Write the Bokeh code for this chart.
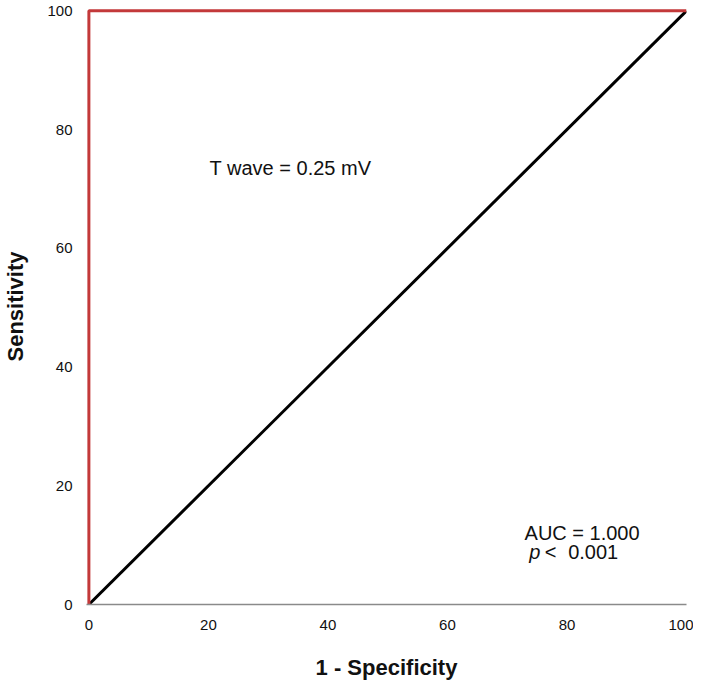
from bokeh.plotting import figure
from bokeh.models import Range1d, FixedTicker, Label
from bokeh.embed import file_html
from bokeh.resources import INLINE

# Data
roc_fpr = [0, 0, 100]
roc_tpr = [0, 100, 100]
ref_x = [0, 100]
ref_y = [0, 100]
ticks = [0, 20, 40, 60, 80, 100]
threshold_text = "T wave = 0.25 mV"
auc_text = "AUC = 1.000"
p_sym = "p"
p_op = "<"
p_val = "0.001"

FONT = "Liberation Sans"

p = figure(width=693, height=682, output_backend="svg", toolbar_location=None,
           x_range=Range1d(-0.4, 100), y_range=Range1d(0, 100.4),
           min_border_left=67, min_border_right=7, min_border_top=8, min_border_bottom=65)
p.outline_line_color = None
p.grid.visible = False

p.line(ref_x, ref_y, line_color="black", line_width=3)
p.line(roc_fpr, roc_tpr, line_color="#c3393a", line_width=3)

for ax in (p.xaxis[0], p.yaxis[0]):
    ax.ticker = FixedTicker(ticks=ticks)
    ax.major_tick_line_color = None
    ax.minor_tick_line_color = None
    ax.axis_line_color = "#8a8a8a"
    ax.axis_line_width = 1.5
    ax.major_label_text_font = FONT
    ax.major_label_text_font_size = "15px"
    ax.major_label_text_color = "#111111"
    ax.axis_label_text_font = FONT
    ax.axis_label_text_font_size = "22px"
    ax.axis_label_text_font_style = "bold"
    ax.axis_label_text_color = "#111111"

p.yaxis.axis_line_color = None
p.xaxis.axis_label = "1 - Specificity"
p.yaxis.axis_label = "Sensitivity"
p.xaxis.major_label_standoff = 9
p.yaxis.major_label_standoff = 8
p.xaxis.axis_label_standoff = 22
p.yaxis.axis_label_standoff = 16

common = dict(text_font=FONT, text_font_size="20px", text_baseline="middle", text_color="#111111")
p.add_layout(Label(x=20.2, y=73.5, text=threshold_text, **common))
p.add_layout(Label(x=72.9, y=12.0, text=auc_text, **common))
p.add_layout(Label(x=73.7, y=8.9, text=p_sym, text_font_style="italic", **common))
p.add_layout(Label(x=76.3, y=8.9, text=p_op, **common))
p.add_layout(Label(x=80.2, y=8.9, text=p_val, **common))

open("out.html", "w").write(file_html(p, INLINE))
